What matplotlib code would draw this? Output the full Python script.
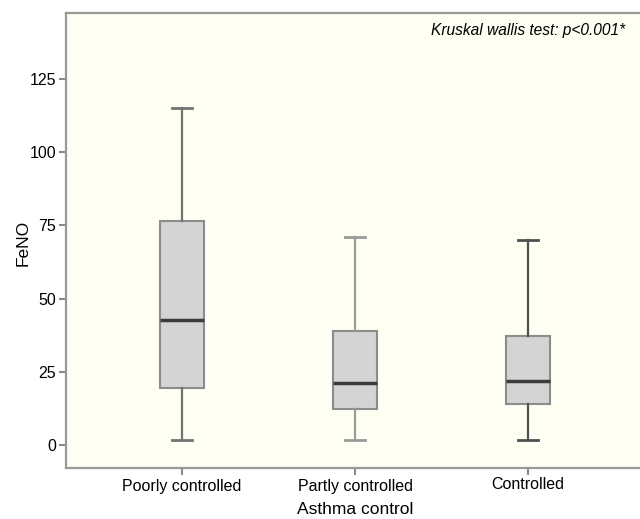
import matplotlib.pyplot as plt
from matplotlib.transforms import ScaledTranslation

plt.rcParams['font.family'] = ['Liberation Sans', 'DejaVu Sans']

groups = ['Poorly controlled', 'Partly controlled', 'Controlled']
whis_low = [1.7, 1.7, 1.7]
q1 = [19.3, 12.2, 14.0]
median = [42.8, 21.0, 21.9]
q3 = [76.6, 38.8, 37.0]
whis_high = [115.1, 71.0, 69.9]

stats = []
for i, g in enumerate(groups):
    stats.append({'label': g, 'whislo': whis_low[i], 'q1': q1[i], 'med': median[i],
                  'q3': q3[i], 'whishi': whis_high[i], 'fliers': []})

fig = plt.figure(figsize=(6.4, 5.19), dpi=100)
ax = fig.add_axes([66 / 640, 51 / 519, 578 / 640, 455.3 / 519])
ax.set_facecolor('#fefef2')

bp = ax.bxp(stats, positions=[1, 2, 3], widths=0.25, patch_artist=True,
            showfliers=False,
            boxprops=dict(facecolor='#d4d4d4', edgecolor='#8c8c8c', linewidth=1.5),
            medianprops=dict(color='#3c3c3c', linewidth=2.5),
            whiskerprops=dict(color='#707070', linewidth=1.6),
            capprops=dict(color='#707070', linewidth=2.0), capwidths=0.12)

# slightly different greys per group, as in the original
for j, col in enumerate(['#737373', '#9a9a9a', '#505050']):
    for ln in bp['whiskers'][2 * j:2 * j + 2] + bp['caps'][2 * j:2 * j + 2]:
        ln.set_color(col)

ax.set_xlim(0.33, 3.67)
ax.set_ylim(-8, 147.8)
ax.set_yticks([0, 25, 50, 75, 100, 125])
ax.set_xticks([1, 2, 3])
ax.set_xticklabels(groups)

for s in ['left', 'bottom', 'top']:
    ax.spines[s].set_color('#9a9a9a')
    ax.spines[s].set_linewidth(1.6)
ax.spines['right'].set_visible(False)
ax.tick_params(axis='both', colors='#8a8a8a', length=5, width=1.5, labelsize=11.5,
               labelcolor='black')
ax.tick_params(axis='x', pad=3)
ax.tick_params(axis='y', pad=2)

# "Controlled" sits a little higher
lab = ax.get_xticklabels()[2]
lab.set_transform(lab.get_transform() + ScaledTranslation(0, 2 / 100, fig.dpi_scale_trans))

ax.set_xlabel('Asthma control', fontsize=12.5)
ax.set_ylabel('FeNO', fontsize=12.5)
ax.xaxis.set_label_coords(0.5, -0.074)
ax.yaxis.set_label_coords(-0.062, 0.494)

ax.text(0.967, 0.962, 'Kruskal wallis test: p<0.001*', transform=ax.transAxes,
        ha='right', va='center', fontsize=11.2, style='italic')

fig.savefig('out.png', dpi=100)
